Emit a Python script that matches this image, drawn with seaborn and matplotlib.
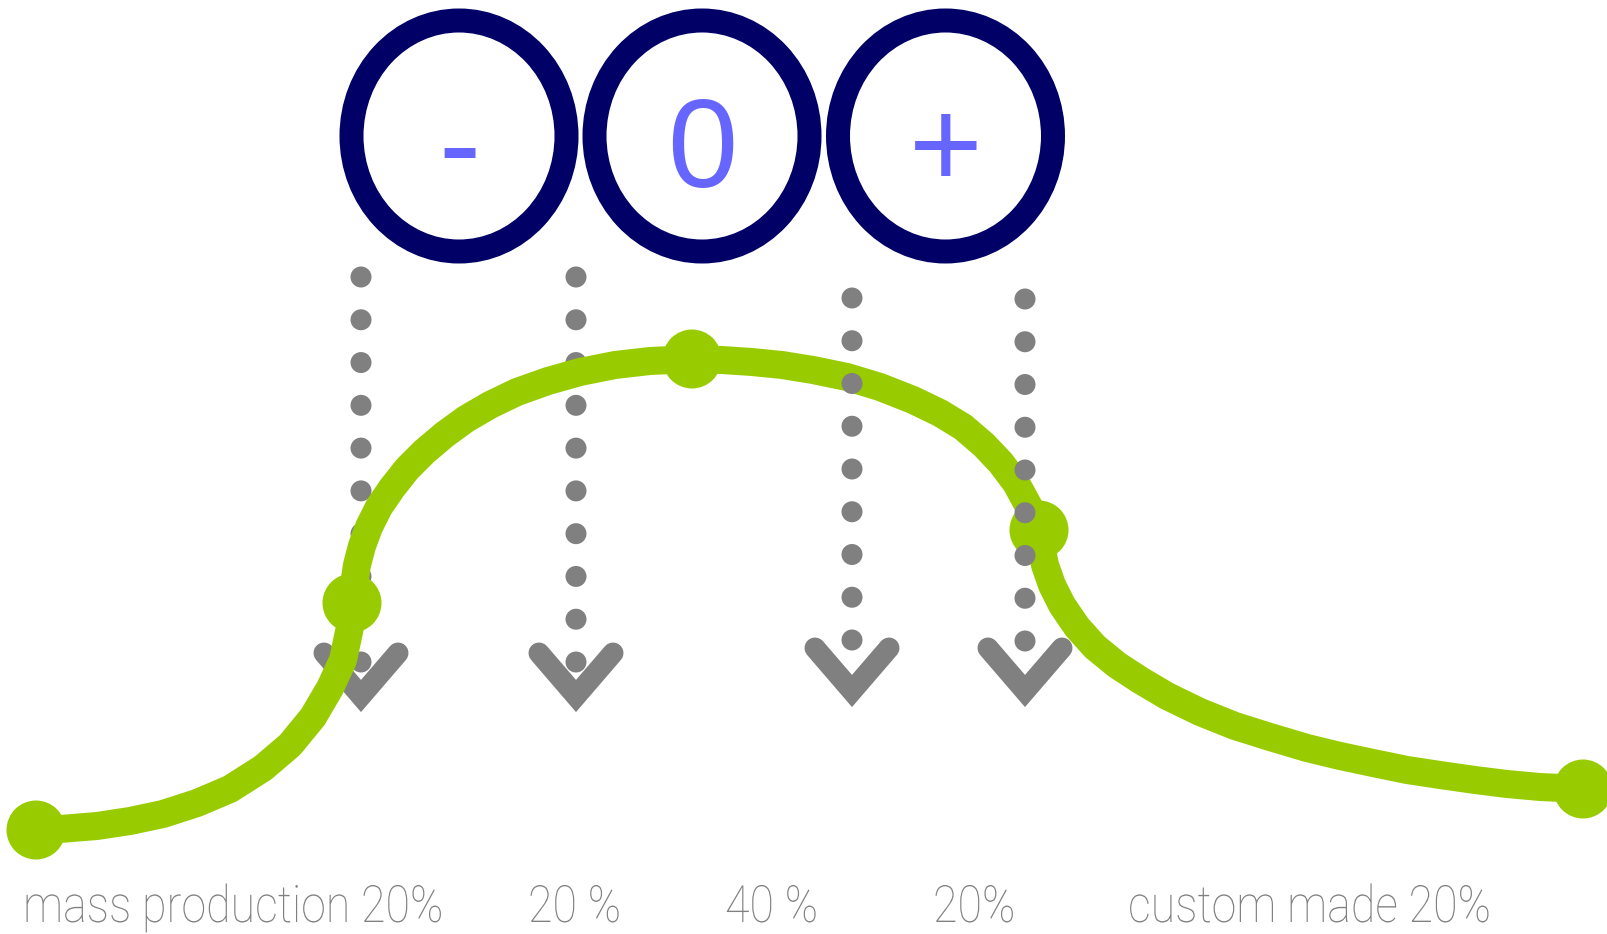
import numpy as np
import pandas as pd
import seaborn as sns
import matplotlib.pyplot as plt
from matplotlib.patches import Ellipse
from matplotlib.patheffects import AbstractPathEffect
from matplotlib.transforms import Affine2D

sns.set_theme(style="white")
plt.rcParams['font.family'] = ['Roboto', 'DejaVu Sans']

# green curve (pixel coords, y down)
curve_x = [36, 60, 97, 130, 163, 197, 230, 263, 290, 313, 330, 343, 350, 352,
           354, 357, 362, 369, 379, 392, 407, 424, 444, 466, 490, 517, 548, 580, 615, 650, 692,
           722, 752, 782, 813, 847, 880, 913, 940, 963, 984, 1001, 1016, 1028, 1036, 1039,
           1041, 1045, 1052, 1062, 1077, 1095, 1117, 1140, 1167, 1200, 1235, 1270, 1307,
           1340, 1373, 1407, 1440, 1475, 1507, 1540, 1583]
curve_y = [830, 829, 826, 821, 814, 803, 789, 768, 745, 717, 688, 660, 627, 603,
           585, 565, 546, 527, 507, 488, 469, 452, 435, 419, 405, 392, 381, 372, 365, 361, 359,
           360, 362, 365, 370, 377, 387, 400, 413, 427, 445, 463, 483, 505, 520, 530,
           545, 565, 585, 605, 627, 647, 665, 680, 696, 712, 726, 737, 748,
           756, 763, 770, 775, 780, 784, 787, 789]
node_x = [36, 352, 692, 1039, 1583]
node_y = [830, 603, 359, 530, 789]

# dotted drop lines with chevrons
col_x = [361, 576, 852, 1025]
col_top = [277, 277, 298, 299]
col_bottom = [662, 662, 640, 641]
col_dots = [10, 10, 9, 9]
arrow_y = [696, 696, 691, 691]
col_front = [False, False, True, True]

# the three rating circles
circle_x = [459, 702, 945.5]
circle_sym = ["-", "0", "+"]

labels = ["mass production 20%", "20 %", "40 %", "20%", "custom made 20%"]
label_x = [23, 528, 725, 933, 1128]

GREEN = "#99CC00"
GRAY = "#808080"
NAVY = "#000066"
BLUE = "#6666FF"
PT = 0.72  # px -> pt at dpi 100


class Squeeze(AbstractPathEffect):
    # narrow the glyphs horizontally (the reference uses a condensed face)
    def __init__(self, sx):
        super().__init__()
        self.sx = sx

    def draw_path(self, renderer, gc, tpath, affine, rgbFace=None):
        renderer.draw_path(gc, tpath, Affine2D().scale(self.sx, 1) + affine, rgbFace)


fig = plt.figure(figsize=(16.08, 9.34), dpi=100)
ax = fig.add_axes([0, 0, 1, 1])
ax.set_xlim(0, 1608)
ax.set_ylim(934, 0)
ax.axis("off")

for x, top, bot, n, ay, front in zip(col_x, col_top, col_bottom, col_dots, arrow_y, col_front):
    z = 5 if front else 1
    ax.plot([x - 37, x, x + 37], [ay - 43, ay, ay - 43], color=GRAY, lw=21 * PT,
            solid_capstyle="round", solid_joinstyle="miter", zorder=z)
    ys = np.linspace(top, bot, n)
    ax.scatter(np.full(n, x), ys, s=(21 * PT) ** 2, color=GRAY,
               edgecolors="none", zorder=z + 0.5)

curve = pd.DataFrame({"x": curve_x, "y": curve_y})
sns.lineplot(data=curve, x="x", y="y", sort=False, estimator=None, color=GREEN,
             lw=28 * PT, solid_capstyle="round", solid_joinstyle="round",
             ax=ax, zorder=3)
sns.scatterplot(x=node_x, y=node_y, s=(59 * PT) ** 2, color=GREEN,
                edgecolor="none", ax=ax, zorder=4)

for cx, sym in zip(circle_x, circle_sym):
    ax.add_patch(Ellipse((cx, 136), 215, 231, fill=False, edgecolor=NAVY,
                         lw=24 * PT, zorder=6))
    ax.text(cx, 187, sym, color=BLUE, fontsize=91, ha="center", va="baseline",
            family=["Liberation Sans", "DejaVu Sans"], zorder=7)

texts = []
for lx, lab in zip(label_x, labels):
    texts.append(ax.text(lx, 922, lab, color=GRAY, fontsize=37, fontweight="light",
                         ha="left", va="baseline"))

fig.canvas.draw()
w0 = texts[0].get_window_extent().width
sx = 420.0 / w0
for t in texts:
    t.set_path_effects([Squeeze(sx)])

ax.set_xlabel("")
ax.set_ylabel("")
fig.savefig("out.png", dpi=100)
